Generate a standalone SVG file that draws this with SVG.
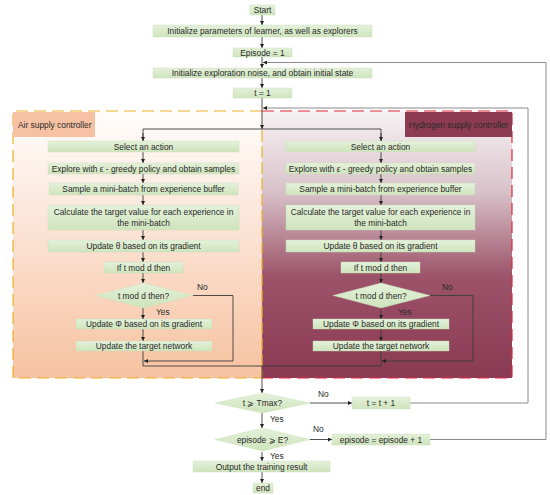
<svg xmlns="http://www.w3.org/2000/svg" width="550" height="495" viewBox="0 0 550 495">
<style>
.b{fill:url(#gb);stroke:#c9ddb8;stroke-width:0.4}
.t{font-family:"Liberation Sans",Arial,sans-serif;font-size:8.4px;fill:#2a2a2a;text-anchor:middle}
.l{font-family:"Liberation Sans",Arial,sans-serif;font-size:8.4px;fill:#2a2a2a}
.c{fill:none;stroke:#3c3c3c;stroke-width:0.9}
.g{fill:none;stroke:#8a8a8a;stroke-width:1}
</style>
<defs>
<linearGradient id="gb" x1="0" y1="0" x2="0" y2="1"><stop offset="0" stop-color="#e4f1da"/><stop offset="1" stop-color="#cfe4bd"/></linearGradient>
<linearGradient id="gl" x1="0" y1="0" x2="0" y2="1"><stop offset="0" stop-color="#fffdfc"/><stop offset="0.5" stop-color="#fbe0d0"/><stop offset="1" stop-color="#f7c2a0"/></linearGradient>
<linearGradient id="gr" x1="0" y1="0" x2="0" y2="1"><stop offset="0" stop-color="#f6f2f4"/><stop offset="0.3" stop-color="#d9c2ca"/><stop offset="0.62" stop-color="#9c5369"/><stop offset="1" stop-color="#8a3a54"/></linearGradient>
<marker id="a" viewBox="0 0 6 6" refX="6" refY="3" markerWidth="4" markerHeight="4" markerUnits="userSpaceOnUse" orient="auto"><path d="M0,0 L6,3 L0,6 z" fill="#222"/></marker>
</defs>

<g id="panels">
<rect x="13" y="111" width="249" height="267" fill="url(#gl)"/>
<rect x="262" y="111" width="250" height="267" fill="url(#gr)"/>
<path d="M262,111 H13 V378 H262" fill="none" stroke="#f0b02a" stroke-width="1.2" stroke-dasharray="12,6"/>
<path d="M262,130 V378" fill="none" stroke="#f0b02a" stroke-width="1.2" stroke-dasharray="12,4"/>
<path d="M262,111 H512 V378 H262" fill="none" stroke="#e0283a" stroke-width="1.2" stroke-dasharray="12,6"/>
</g>
<g id="air-label"><rect x="13" y="112" width="82" height="25" fill="#f7c2a3"/><text class="l" x="18" y="127.5">Air supply controller</text></g>
<g id="h2-label"><rect x="405" y="112" width="107" height="25" fill="#8c3b53"/><text class="t" x="458.5" y="127.5">Hydrogen supply controller</text></g>

<g id="connectors">
<path class="c" d="M262,15 V25" marker-end="url(#a)"/>
<path class="c" d="M262,37 V48" marker-end="url(#a)"/>
<path class="c" d="M262,57 V68" marker-end="url(#a)"/>
<path class="c" d="M262,78 V88" marker-end="url(#a)"/>
<path class="c" d="M262,98 V129" marker-end="url(#a)"/>
<path class="c" d="M381,141 V129 H143 V141" />
<path class="c" d="M143,133 V141" marker-end="url(#a)"/>
<path class="c" d="M381,133 V141" marker-end="url(#a)"/>
<path class="c" d="M143,152 V163" marker-end="url(#a)"/>
<path class="c" d="M143,174 V183" marker-end="url(#a)"/>
<path class="c" d="M143,195 V205" marker-end="url(#a)"/>
<path class="c" d="M143,230 V240" marker-end="url(#a)"/>
<path class="c" d="M143,252 V262" marker-end="url(#a)"/>
<path class="c" d="M143,273 V283" marker-end="url(#a)"/>
<path class="c" d="M143,308 V319" marker-end="url(#a)"/>
<path class="c" d="M143,329 V341" marker-end="url(#a)"/>
<path class="c" d="M193,295.5 H233 V361 H144" marker-end="url(#a)"/>
<path class="c" d="M143,351 V366 H262"/>
<path class="c" d="M381,152 V163" marker-end="url(#a)"/>
<path class="c" d="M381,174 V183" marker-end="url(#a)"/>
<path class="c" d="M381,195 V205" marker-end="url(#a)"/>
<path class="c" d="M381,230 V240" marker-end="url(#a)"/>
<path class="c" d="M381,252 V262" marker-end="url(#a)"/>
<path class="c" d="M381,273 V283" marker-end="url(#a)"/>
<path class="c" d="M381,308 V319" marker-end="url(#a)"/>
<path class="c" d="M381,329 V341" marker-end="url(#a)"/>
<path class="c" d="M430,295.5 H473 V361 H382" marker-end="url(#a)"/>
<path class="c" d="M381,351 V366 H262"/>
<path class="c" d="M262,366 V393" marker-end="url(#a)"/>
<path class="c" d="M310,403 H352" marker-end="url(#a)"/>
<path class="c" d="M262,413 V428" marker-end="url(#a)"/>
<path class="c" d="M310,439.5 H332" marker-end="url(#a)"/>
<path class="c" d="M262,452 V461" marker-end="url(#a)"/>
<path class="c" d="M262,472 V483" marker-end="url(#a)"/>
<path class="g" d="M410,403 H528 V108 H263" marker-end="url(#a)"/>
<path class="g" d="M430,439.5 H546 V62.5 H263" marker-end="url(#a)"/>
</g>

<g id="start"><rect class="b" x="250" y="5" width="25" height="10"/><text class="t" x="262.5" y="13">Start</text></g>
<g id="init-params"><rect class="b" x="153" y="25" width="219" height="12"/><text class="t" x="262.5" y="34">Initialize parameters of learner, as well as explorers</text></g>
<g id="episode1"><rect class="b" x="233" y="48" width="59" height="9"/><text class="t" x="262.5" y="55.6">Episode = 1</text></g>
<g id="init-noise"><rect class="b" x="153" y="68" width="219" height="10"/><text class="t" x="262.5" y="76">Initialize exploration noise, and obtain initial state</text></g>
<g id="t1"><rect class="b" x="233" y="88" width="59" height="10"/><text class="t" x="262.5" y="96">t = 1</text></g>

<g id="air-select"><rect class="b" x="48" y="141" width="191" height="11"/><text class="t" x="143.5" y="149.6">Select an action</text></g>
<g id="air-explore"><rect class="b" x="48" y="163" width="191" height="11"/><text class="t" x="143.5" y="171.6">Explore with  ε - greedy policy and obtain samples</text></g>
<g id="air-sample"><rect class="b" x="49" y="183" width="189" height="12"/><text class="t" x="143.5" y="192">Sample a mini-batch from experience buffer</text></g>
<g id="air-calc"><rect class="b" x="48" y="205" width="191" height="25"/><text class="t" x="143.5" y="215">Calculate the target value for each experience in</text><text class="t" x="143.5" y="225.6">the mini-batch</text></g>
<g id="air-theta"><rect class="b" x="48" y="240" width="191" height="12"/><text class="t" x="143.5" y="249">Update  θ based on its gradient</text></g>
<g id="air-if"><rect class="b" x="104" y="262" width="79" height="11"/><text class="t" x="143.5" y="270.6">If t mod d then</text></g>
<g id="air-dec"><polygon class="b" points="95,295.5 143.5,283 193,295.5 143.5,308"/><text class="t" x="143.5" y="298.5">t mod d then?</text><text class="l" x="197" y="290">No</text><text class="l" x="156" y="314.5">Yes</text></g>
<g id="air-phi"><rect class="b" x="76" y="319" width="136" height="10"/><text class="t" x="144" y="327">Update  Φ  based on its gradient</text></g>
<g id="air-target"><rect class="b" x="76" y="341" width="136" height="10"/><text class="t" x="144" y="349">Update the target network</text></g>

<g id="h2-select"><rect class="b" x="286" y="141" width="189" height="11"/><text class="t" x="380.5" y="149.6">Select an action</text></g>
<g id="h2-explore"><rect class="b" x="286" y="163" width="189" height="11"/><text class="t" x="380.5" y="171.6">Explore with  ε - greedy policy and obtain samples</text></g>
<g id="h2-sample"><rect class="b" x="286" y="183" width="189" height="12"/><text class="t" x="380.5" y="192">Sample a mini-batch from experience buffer</text></g>
<g id="h2-calc"><rect class="b" x="286" y="205" width="189" height="25"/><text class="t" x="380.5" y="215">Calculate the target value for each experience in</text><text class="t" x="380.5" y="225.6">the mini-batch</text></g>
<g id="h2-theta"><rect class="b" x="286" y="240" width="189" height="12"/><text class="t" x="380.5" y="249">Update  θ based on its gradient</text></g>
<g id="h2-if"><rect class="b" x="341" y="262" width="79" height="11"/><text class="t" x="380.5" y="270.6">If t mod d then</text></g>
<g id="h2-dec"><polygon class="b" points="333,295.5 381,283 430,295.5 381,308"/><text class="t" x="381" y="298.5">t mod d then?</text><text class="l" x="442" y="290">No</text><text class="l" x="398" y="314.5">Yes</text></g>
<g id="h2-phi"><rect class="b" x="313" y="319" width="136" height="10"/><text class="t" x="381" y="327">Update  Φ  based on its gradient</text></g>
<g id="h2-target"><rect class="b" x="313" y="341" width="136" height="10"/><text class="t" x="381" y="349">Update the target network</text></g>

<g id="tmax"><polygon class="b" points="215,403 262.5,393 310,403 262.5,413"/><text class="t" x="262.5" y="406">t ⩾ Tmax?</text><text class="l" x="318" y="397">No</text><text class="l" x="270" y="421.5">Yes</text></g>
<g id="tinc"><rect class="b" x="352" y="397" width="58" height="12"/><text class="t" x="381" y="406">t = t + 1</text></g>
<g id="epE"><polygon class="b" points="215,439.5 262.5,428 310,439.5 262.5,451"/><text class="t" x="262.5" y="442.5">episode ⩾ E?</text><text class="l" x="313" y="432">No</text><text class="l" x="270" y="459">Yes</text></g>
<g id="epinc"><rect class="b" x="332" y="434" width="98" height="11"/><text class="t" x="381" y="442.5">episode = episode + 1</text></g>
<g id="output"><rect class="b" x="193" y="461" width="137" height="11"/><text class="t" x="261.5" y="469.6">Output the training result</text></g>
<g id="end"><rect class="b" x="253" y="483" width="20" height="10"/><text class="t" x="263" y="491">end</text></g>
</svg>
